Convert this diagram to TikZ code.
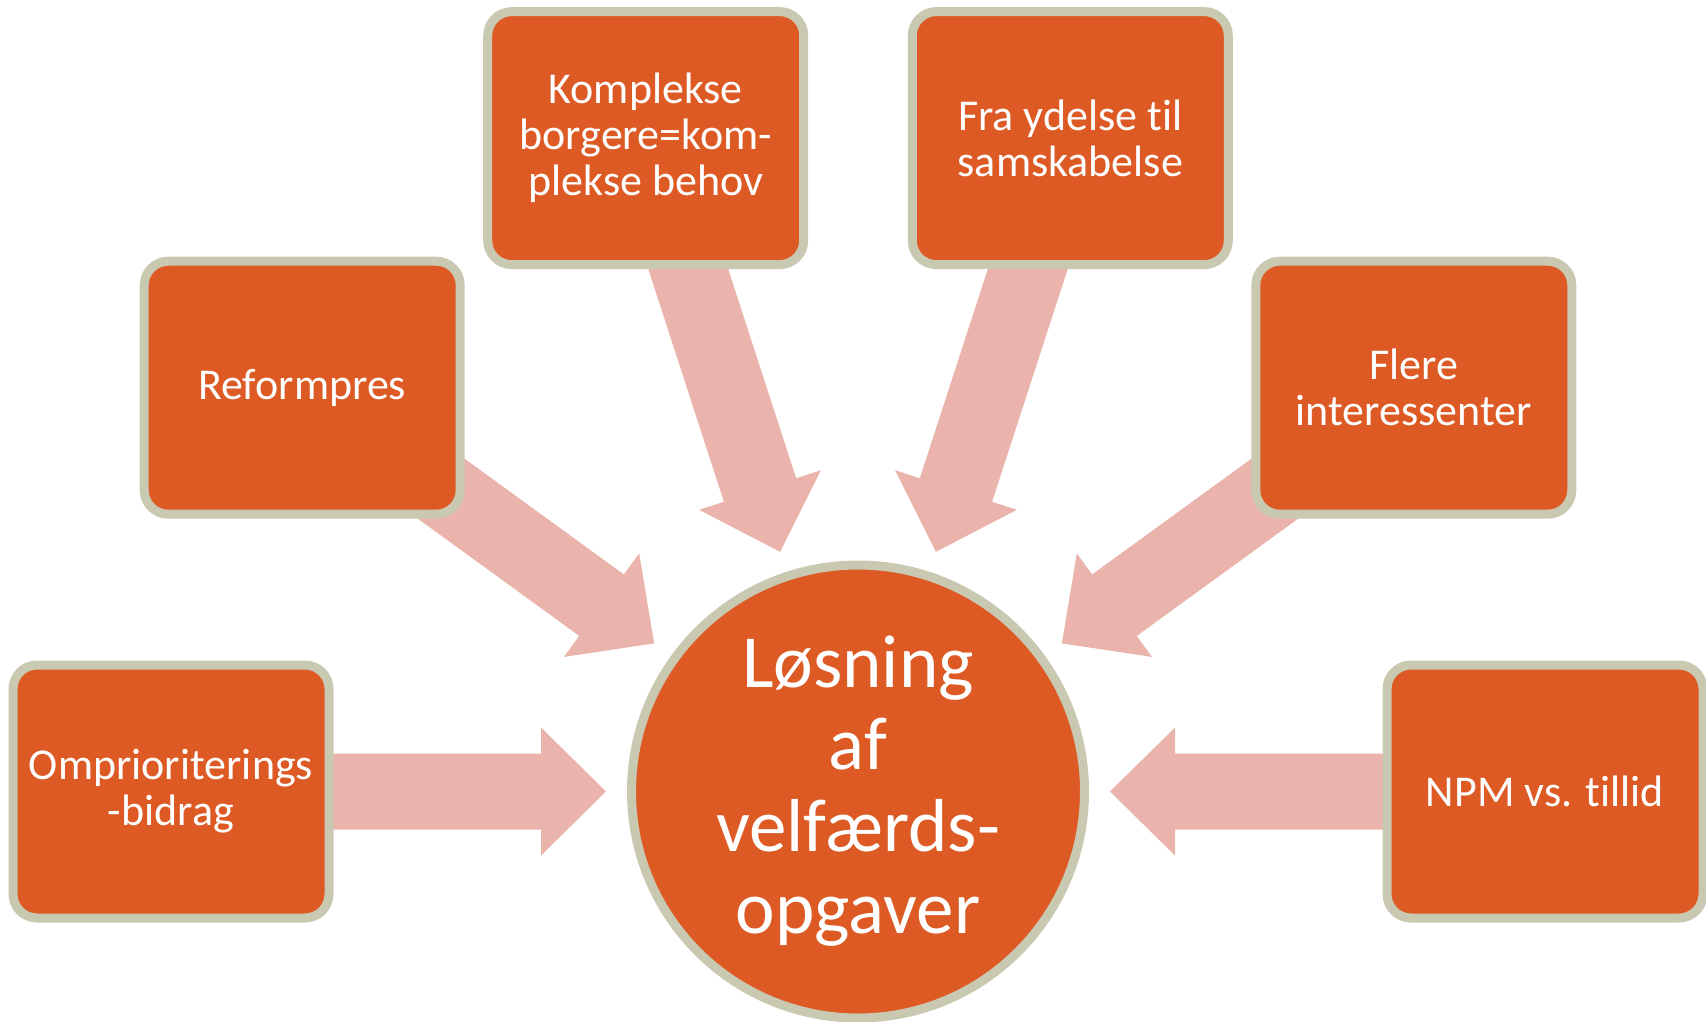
\documentclass[tikz,border=0pt]{standalone}
\usepackage{fontspec}
\setmainfont{Carlito}[Ligatures={NoCommon}]
\definecolor{boxfill}{RGB}{221,90,36}
\definecolor{boxline}{RGB}{201,200,176}
\definecolor{arrowfill}{RGB}{234,180,172}
\begin{document}
\begin{tikzpicture}[x=1pt,y=-1pt,
  factor/.style={draw=boxline, line width=9pt, fill=boxfill, rounded corners=24pt,
    minimum width=316pt, minimum height=253pt, text=white, align=center,
    font=\fontsize{44}{46}\selectfont, inner sep=0pt},
  core/.style={draw=boxline, line width=9pt, fill=boxfill, circle,
    minimum size=453pt, text=white, align=center,
    font=\fontsize{75}{82}\selectfont, inner sep=0pt},
  blockarrow/.style={fill=arrowfill, draw=none}]
\useasboundingbox (0,0) rectangle (1706,1021);
\coordinate (C) at (858,791.5);
% block arrows pointing to the centre
\foreach \a in {0,-36,-72,-108,-144,-180}{
  \begin{scope}[shift={(C)}, rotate=\a]
    \fill[blockarrow] (-600,-38) -- (-317,-38) -- (-317,-64) -- (-252,0)
      -- (-317,64) -- (-317,38) -- (-600,38) -- cycle;
  \end{scope}
}
\node[factor] (omp) at (171,791.5) {Omprioriterings\\-bidrag};
\node[factor] (ref) at (302.2,387.7) {Reformpres};
\node[factor] (kom) at (645.7,138.1) {Komplekse\\borgere=kom-\\plekse behov};
\node[factor] (fra) at (1070.3,138.1) {Fra ydelse til\\samskabelse};
\node[factor] (fle) at (1413.8,387.7) {Flere\\interessenter};
\node[factor] (npm) at (1545,791.5) {NPM vs. tillid};
\node[core] (los) at (C) {Løsning\\af\\velfærds-\\opgaver};
\end{tikzpicture}
\end{document}
